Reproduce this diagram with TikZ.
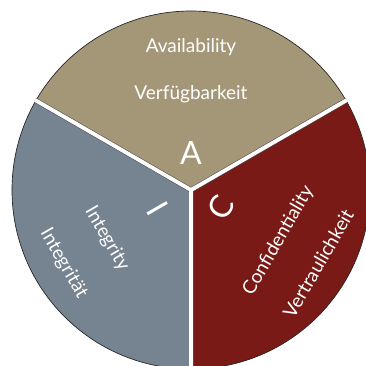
\documentclass[tikz,border=0pt]{standalone}
\usepackage{fontspec}
\setmainfont{Lato}
\usetikzlibrary{calc}
\definecolor{avail}{RGB}{164,151,120}
\definecolor{integ}{RGB}{118,131,145}
\definecolor{confi}{RGB}{122,26,22}
\begin{document}
\begin{tikzpicture}[x=1pt,y=1pt,
  sector/.style={draw=black!85,line width=0.7pt},
  gapdark/.style={draw=black!70,line width=5pt},
  gapwhite/.style={draw=white,line width=3.9pt},
  label/.style={text=white,font=\fontsize{19}{19}\selectfont,inner sep=0pt},
  big/.style={text=white,font=\fontsize{32}{32}\selectfont,inner sep=0pt}]
\useasboundingbox (0,0) rectangle (366,365);
\clip (0,0) rectangle (366,365);
\coordinate (O) at (191,175);
\def\R{179}
% sectors
\fill[avail] (O) -- ++(30:\R) arc[start angle=30,end angle=150,radius=\R] -- cycle;
\fill[confi] (O) -- ++(-90:\R) arc[start angle=-90,end angle=30,radius=\R] -- cycle;
\fill[integ] (O) -- ++(150:\R) arc[start angle=150,end angle=270,radius=\R] -- cycle;
\draw[sector] (O) circle[radius=\R];
% gaps
\begin{scope}
\clip (O) circle[radius=\R+1];
\coordinate (ga) at ($(O)+(30:\R+6)$);
\coordinate (gb) at ($(O)+(150:\R+6)$);
\coordinate (gc) at ($(O)+(270:\R+6)$);
\draw[gapdark] (O) -- (ga);
\draw[gapdark] (O) -- (gb);
\draw[gapdark] (O) -- (gc);
\draw[gapwhite] (O) -- (ga);
\draw[gapwhite] (O) -- (gb);
\draw[gapwhite] (O) -- (gc);
\end{scope}
% labels
\node[label] (aen) at ($(O)+(90:143)$) {Availability};
\node[label] (ade) at ($(O)+(90:96)$) {Verfügbarkeit};
\node[big] (a) at ($(O)+(90:37)$) {A};
\node[big,rotate=-60] (i) at ($(O)+(210:38)$) {I};
\node[label,rotate=-60] (ien) at ($(O)+(210:97)$) {Integrity};
\node[label,rotate=-60] (ide) at ($(O)+(210:147)$) {Integrität};
\node[big,rotate=60] (c) at ($(O)+(-30:35)$) {C};
\node[label,rotate=60] (cen) at ($(O)+(-30:101)$) {Confidentiality};
\node[label,rotate=60] (cde) at ($(O)+(-30:147)$) {Vertraulichkeit};
\end{tikzpicture}
\end{document}
